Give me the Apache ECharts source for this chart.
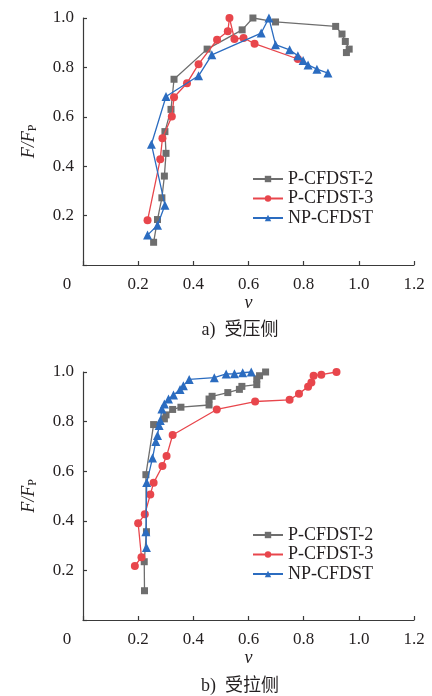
<!DOCTYPE html>
<html>
<head>
<meta charset="utf-8">
<script src="https://cdn.jsdelivr.net/npm/echarts@6/dist/echarts.min.js"></script>
<style>
  html, body { margin: 0; padding: 0; background: #fff; }
  #chart { width: 432px; height: 696px; }
</style>
</head>
<body>
<div id="chart"></div>
<script>
// Load–displacement curves, normalised: compression side (a) and tension side (b)
const seriesNames = ['P-CFDST-2', 'P-CFDST-3', 'NP-CFDST'];
const xTicks = [0, 0.2, 0.4, 0.6, 0.8, 1.0, 1.2];
const yTicks = [0, 0.2, 0.4, 0.6, 0.8, 1.0];
const captions = ['a)  受压侧', 'b)  受拉侧'];

// a) compression side: [v, F/Fp]
const compP2 = [[0.256,0.092],[0.270,0.184],[0.286,0.272],[0.295,0.360],[0.301,0.452],[0.297,0.540],[0.319,0.630],[0.330,0.752],[0.450,0.874],[0.577,0.952],[0.616,1.0],[0.698,0.984],[0.916,0.966],[0.939,0.935],[0.951,0.905],[0.965,0.874],[0.955,0.860]];
const compP3 = [[0.234,0.181],[0.280,0.428],[0.288,0.513],[0.322,0.601],[0.330,0.679],[0.377,0.736],[0.419,0.813],[0.486,0.912],[0.525,0.946],[0.531,1.0],[0.549,0.915],[0.582,0.919],[0.622,0.896],[0.779,0.834]];
const compNP = [[0.234,0.121],[0.270,0.161],[0.297,0.242],[0.248,0.489],[0.301,0.682],[0.419,0.766],[0.467,0.851],[0.646,0.939],[0.674,1.0],[0.698,0.892],[0.749,0.871],[0.779,0.847],[0.798,0.828],[0.816,0.810],[0.848,0.793],[0.888,0.777]];

// b) tension side: [v, F/Fp]
const tensP2 = [[0.223,0.118],[0.222,0.235],[0.230,0.356],[0.228,0.586],[0.256,0.788],[0.295,0.811],[0.301,0.827],[0.325,0.849],[0.355,0.858],[0.457,0.867],[0.457,0.891],[0.468,0.902],[0.525,0.917],[0.567,0.930],[0.576,0.942],[0.630,0.949],[0.630,0.972],[0.640,0.985],[0.662,1.0]];
const tensP3 = [[0.188,0.218],[0.212,0.253],[0.200,0.390],[0.224,0.426],[0.244,0.506],[0.256,0.553],[0.288,0.621],[0.303,0.661],[0.325,0.746],[0.485,0.849],[0.624,0.881],[0.749,0.888],[0.783,0.912],[0.816,0.941],[0.828,0.958],[0.836,0.985],[0.864,0.989],[0.919,1.0]];
const tensNP = [[0.230,0.292],[0.228,0.356],[0.231,0.554],[0.252,0.653],[0.264,0.720],[0.270,0.744],[0.276,0.784],[0.280,0.804],[0.286,0.851],[0.295,0.871],[0.310,0.891],[0.328,0.907],[0.352,0.929],[0.364,0.945],[0.385,0.970],[0.476,0.977],[0.519,0.992],[0.549,0.993],[0.579,0.997],[0.610,1.0]];

const SERIF = '"Liberation Serif", "Times New Roman", serif';
const CAPTION_FONT = '"Liberation Serif", "Noto Sans CJK SC", serif';
const INK = '#231f20';
const AXIS = '#3a3a3a';

const styles = [
  { color: '#6e6e6e', symbol: 'rect', symbolSize: 7 },
  { color: '#e8464c', symbol: 'circle', symbolSize: 8 },
  { color: '#2b6cc0', symbol: 'triangle', symbolSize: 9 }
];

function xAxisFor(gridIndex) {
  return {
    gridIndex, type: 'value', min: xTicks[0], max: xTicks[xTicks.length - 1], interval: 0.2,
    name: 'v', nameLocation: 'middle', nameGap: 29,
    nameTextStyle: { fontFamily: SERIF, fontStyle: 'italic', fontSize: 18, color: INK },
    axisLine: { show: true, onZero: false, lineStyle: { color: AXIS, width: 1.2 } },
    axisTick: { show: true, inside: true, length: 4, lineStyle: { color: AXIS, width: 1.2 } },
    splitLine: { show: false },
    axisLabel: {
      margin: 11, fontFamily: SERIF, fontSize: 17, color: INK,
      formatter: v => v === 0 ? '{o|0}' : v.toFixed(1),
      rich: { o: { fontFamily: SERIF, fontSize: 17, color: INK, padding: [0, 32, 0, 0] } }
    }
  };
}

function yAxisFor(gridIndex) {
  return {
    gridIndex, type: 'value', min: yTicks[0], max: yTicks[yTicks.length - 1], interval: 0.2,
    name: '{i|F/F}{s|P}', nameLocation: 'middle', nameGap: 44, nameRotate: 90,
    nameTextStyle: {
      rich: {
        i: { fontFamily: SERIF, fontStyle: 'italic', fontSize: 18, color: INK, lineHeight: 20 },
        s: { fontFamily: SERIF, fontSize: 12, color: INK, verticalAlign: 'bottom', lineHeight: 14 }
      }
    },
    axisLine: { show: true, onZero: false, lineStyle: { color: AXIS, width: 1.2 } },
    axisTick: { show: true, inside: true, length: 4, lineStyle: { color: AXIS, width: 1.2 } },
    splitLine: { show: false },
    axisLabel: {
      margin: 9, fontFamily: SERIF, fontSize: 17, color: INK,
      formatter: v => v === 0 ? '' : v.toFixed(1)
    }
  };
}

function makeSeries(data, i, gridIndex) {
  return {
    name: seriesNames[i], type: 'line', xAxisIndex: gridIndex, yAxisIndex: gridIndex,
    data, clip: false, animation: false,
    symbol: styles[i].symbol, symbolSize: styles[i].symbolSize, showAllSymbol: true,
    lineStyle: { color: styles[i].color, width: 1.3 },
    itemStyle: { color: styles[i].color },
    z: 2 + i
  };
}

function legendFor(top) {
  return {
    orient: 'vertical', left: 247, top, itemWidth: 30, itemHeight: 8, itemGap: 1.5,
    data: seriesNames,
    textStyle: { fontFamily: SERIF, fontSize: 18, color: INK, padding: [0, 0, 0, 0] }
  };
}

const chart = echarts.init(document.getElementById('chart'), null, { renderer: 'canvas' });
chart.setOption({
  backgroundColor: '#ffffff',
  animation: false,
  grid: [
    { left: 83, right: 18, top: 18, height: 247 },
    { left: 83, right: 18, top: 372, height: 248 }
  ],
  xAxis: [xAxisFor(0), xAxisFor(1)],
  yAxis: [yAxisFor(0), yAxisFor(1)],
  legend: [legendFor(165), legendFor(521)],
  series: [
    makeSeries(compP2, 0, 0), makeSeries(compP3, 1, 0), makeSeries(compNP, 2, 0),
    makeSeries(tensP2, 0, 1), makeSeries(tensP3, 1, 1), makeSeries(tensNP, 2, 1)
  ],
  graphic: [
    { type: 'text', x: 240, y: 330, style: { text: captions[0], font: '18px ' + CAPTION_FONT, fill: INK, textAlign: 'center', textVerticalAlign: 'middle' } },
    { type: 'text', x: 240, y: 686, style: { text: captions[1], font: '18px ' + CAPTION_FONT, fill: INK, textAlign: 'center', textVerticalAlign: 'middle' } }
  ]
});
</script>
</body>
</html>
